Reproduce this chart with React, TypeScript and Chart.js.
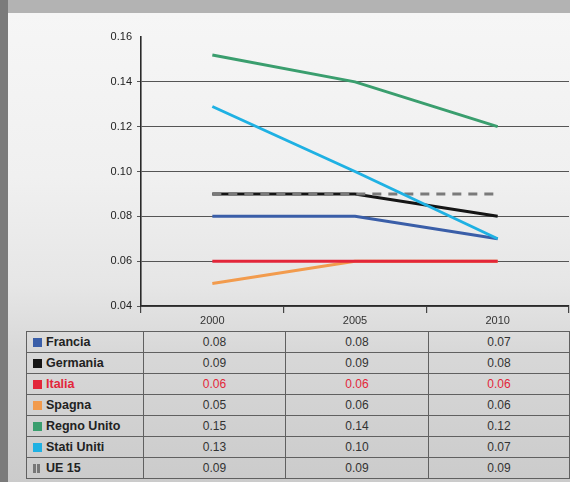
import React, { useEffect, useRef } from "react";
import { Chart, registerables } from "chart.js";

Chart.register(...registerables);

const years = ["2000", "2005", "2010"];
const seriesNames = ["Francia", "Germania", "Italia", "Spagna", "Regno Unito", "Stati Uniti", "UE 15"];
const francia = [0.08, 0.08, 0.07];
const germania = [0.09, 0.09, 0.08];
const italia = [0.06, 0.06, 0.06];
const spagna = [0.05, 0.06, 0.06];
const regnoUnito = [0.152, 0.14, 0.12];
const statiUniti = [0.129, 0.1, 0.07];
const ue15 = [0.09, 0.09, 0.09];
const seriesValues = [francia, germania, italia, spagna, regnoUnito, statiUniti, ue15];
const seriesColors = ["#3a5ea8", "#151515", "#e3263a", "#f29b4d", "#3a9e6e", "#1fb1e3", "#7a7a7a"];
const seriesOrder = [4, 3, 2, 5, 4, 0, 1];
const yMin = 0.04;
const yMax = 0.16;
const yStep = 0.02;

const FONT = "'Liberation Sans', Arial, Helvetica, sans-serif";

export default function App() {
  const canvasRef = useRef<HTMLCanvasElement | null>(null);

  useEffect(() => {
    const canvas = canvasRef.current;
    if (!canvas) return;
    const datasets = seriesNames.map((name, i) => ({
      label: name,
      data: seriesValues[i],
      borderColor: seriesColors[i],
      backgroundColor: seriesColors[i],
      borderWidth: 3,
      borderDash: name === "UE 15" ? [9, 7] : [],
      pointRadius: 0,
      tension: 0,
      fill: false,
      order: seriesOrder[i],
    }));
    const chart = new Chart(canvas, {
      type: "line",
      data: { labels: years, datasets },
      options: {
        animation: false,
        responsive: false,
        devicePixelRatio: 1,
        layout: { padding: { top: 37, right: 1, bottom: 0, left: 0 } },
        plugins: { legend: { display: false }, tooltip: { enabled: false } },
        scales: {
          x: {
            type: "category",
            offset: true,
            afterFit: (s: any) => {
              s.height = 24;
            },
            grid: {
              display: true,
              offset: true,
              drawOnChartArea: false,
              drawTicks: true,
              tickLength: 7,
              color: "#444",
              lineWidth: 1.2,
            },
            border: { display: true, color: "#2a2a2a", width: 1.6 },
            ticks: {
              color: "#333",
              font: { family: FONT, size: 11 },
              padding: 1,
              maxRotation: 0,
            },
          },
          y: {
            min: yMin,
            max: yMax,
            afterFit: (s: any) => {
              s.width = 141;
            },
            ticks: {
              stepSize: yStep,
              color: "#222",
              font: { family: FONT, size: 11 },
              padding: 5,
              callback: (v: any) => Number(v).toFixed(2),
            },
            grid: {
              drawTicks: true,
              tickLength: 4,
              lineWidth: 1,
              color: (ctx: any) =>
                Math.abs(ctx.tick?.value - yMax) < 1e-9 ? "rgba(0,0,0,0)" : "#555555",
            },
            border: { display: true, color: "#2a2a2a", width: 1.6 },
          },
        },
      },
    });
    return () => chart.destroy();
  }, []);

  const cellBorder = "1.5px solid #606060";

  return (
    <div
      style={{
        position: "fixed",
        left: 0,
        top: 0,
        width: 570,
        height: 482,
        background: "#7b7b7b",
        overflow: "hidden",
        fontFamily: FONT,
      }}
    >
      <div style={{ position: "absolute", left: 8, top: 0, width: 562, height: 13, background: "#b3b3b3" }} />
      <div
        style={{
          position: "absolute",
          left: 8,
          top: 13,
          width: 562,
          height: 469,
          background:
            "linear-gradient(to bottom, #f6f6f6 0%, #f0f0f0 35%, #e6e6e6 58%, #d8d8d8 72%, #cbcbcb 100%)",
        }}
      />
      <canvas
        ref={canvasRef}
        width={570}
        height={330}
        style={{ position: "absolute", left: 0, top: 0, width: 570, height: 330 }}
      />
      <table
        style={{
          position: "absolute",
          left: 26,
          top: 331,
          width: 543,
          borderCollapse: "collapse",
          tableLayout: "fixed",
        }}
      >
        <colgroup>
          <col style={{ width: 117 }} />
          <col style={{ width: 142 }} />
          <col style={{ width: 143 }} />
          <col style={{ width: 141 }} />
        </colgroup>
        <tbody>
          {seriesNames.map((name, i) => {
            const isItalia = name === "Italia";
            const txtColor = isItalia ? "#e3263a" : "#222";
            return (
              <tr key={name} style={{ height: 21 }}>
                <td
                  style={{
                    border: cellBorder,
                    padding: "0 0 0 6px",
                    height: 19,
                    fontWeight: "bold",
                    fontSize: 12.5,
                    color: txtColor,
                    whiteSpace: "nowrap",
                    lineHeight: "19px",
                  }}
                >
                  {name === "UE 15" ? (
                    <span style={{ display: "inline-block", width: 9, height: 9, marginRight: 4, verticalAlign: "-1px" }}>
                      <span style={{ display: "inline-block", width: 3, height: 9, background: "#777", marginRight: 1 }} />
                      <span style={{ display: "inline-block", width: 3, height: 9, background: "#777" }} />
                    </span>
                  ) : (
                    <span
                      style={{
                        display: "inline-block",
                        width: 9,
                        height: 9,
                        background: seriesColors[i],
                        marginRight: 4,
                        verticalAlign: "-1px",
                      }}
                    />
                  )}
                  {name}
                </td>
                {seriesValues[i].map((v, j) => (
                  <td
                    key={j}
                    style={{
                      border: cellBorder,
                      textAlign: "center",
                      fontSize: 12,
                      color: isItalia ? "#e3263a" : "#333",
                      padding: 0,
                      height: 19,
                      lineHeight: "19px",
                    }}
                  >
                    {v.toFixed(2)}
                  </td>
                ))}
              </tr>
            );
          })}
        </tbody>
      </table>
    </div>
  );
}
